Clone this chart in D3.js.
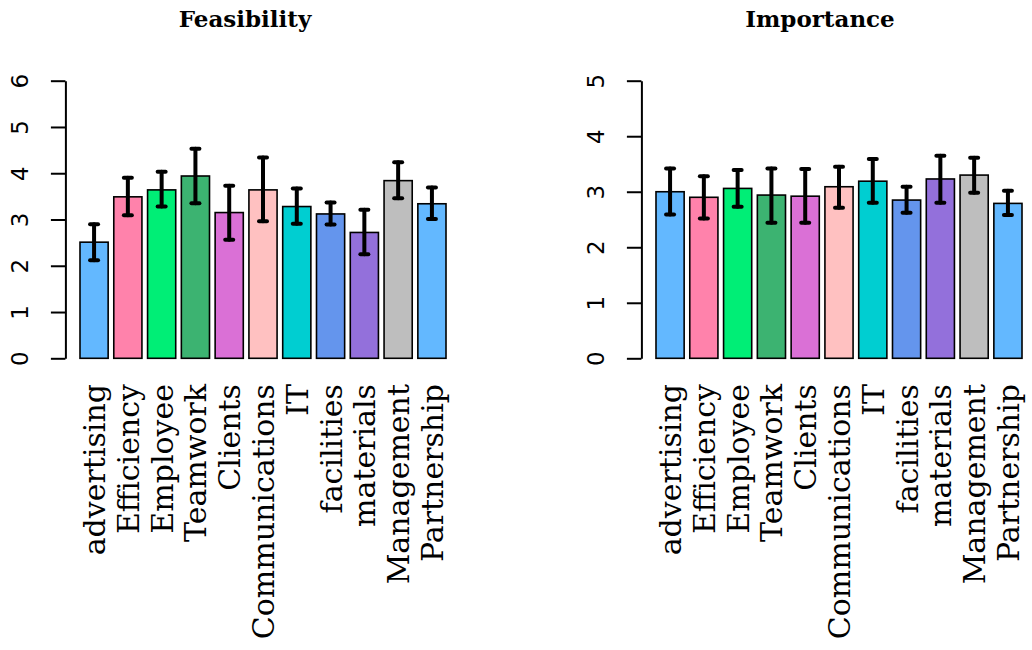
<!DOCTYPE html>
<html>
<head>
<meta charset="utf-8">
<script src="https://cdn.jsdelivr.net/npm/d3@7"></script>
<style>
  html, body { margin: 0; padding: 0; background: #fff; }
  svg { display: block; }
</style>
</head>
<body>
<svg id="chart" width="1032" height="650"></svg>
<script>
const categories = ["advertising", "Efficiency", "Employee", "Teamwork", "Clients",
  "Communications", "IT", "facilities", "materials", "Management", "Partnership"];
const colors = ["#63B8FF", "#FF82AB", "#00EE76", "#3CB371", "#DA70D6",
  "#FFC1C1", "#00CED1", "#6495ED", "#9370DB", "#BEBEBE", "#63B8FF"];

const feasibilityMean = [2.51, 3.49, 3.64, 3.94, 3.15, 3.64, 3.28, 3.12, 2.72, 3.84, 3.34];
const feasibilityLow  = [2.12, 3.09, 3.28, 3.35, 2.56, 2.96, 2.91, 2.89, 2.25, 3.46, 3.01];
const feasibilityHigh = [2.90, 3.90, 4.03, 4.53, 3.73, 4.34, 3.67, 3.37, 3.21, 4.24, 3.69];
const feasibilityTicks = [0, 1, 2, 3, 4, 5, 6];

const importanceMean = [3.00, 2.90, 3.06, 2.94, 2.92, 3.09, 3.19, 2.85, 3.23, 3.30, 2.79];
const importanceLow  = [2.59, 2.52, 2.73, 2.44, 2.44, 2.71, 2.80, 2.62, 2.80, 2.98, 2.58];
const importanceHigh = [3.42, 3.28, 3.39, 3.42, 3.41, 3.45, 3.59, 3.09, 3.65, 3.61, 3.02];
const importanceTicks = [0, 1, 2, 3, 4, 5];

const svg = d3.select("#chart");

function panel(opts) {
  const g = svg.append("g");
  const x = d3.scaleBand()
    .domain(categories)
    .range([opts.left, opts.left + 395.2])
    .paddingInner(1 / 6)
    .paddingOuter(0.432);
  const y = d3.scaleLinear().domain([0, opts.ymax]).range([358.3, 80.7]);

  const data = categories.map((c, i) => ({
    c, i, v: opts.mean[i], lo: opts.low[i], hi: opts.high[i], col: colors[i]
  }));

  // bars
  g.selectAll("rect.bar").data(data).enter().append("rect")
    .attr("class", "bar")
    .attr("x", d => x(d.c))
    .attr("width", x.bandwidth())
    .attr("y", d => y(d.v))
    .attr("height", d => y(0) - y(d.v))
    .attr("fill", d => d.col)
    .attr("stroke", "#000")
    .attr("stroke-width", 1.6);

  // error bars
  const cx = d => x(d.c) + x.bandwidth() / 2;
  const eg = g.append("g").attr("stroke", "#000").attr("stroke-width", 4)
    .attr("stroke-linecap", "round");
  eg.selectAll("line.v").data(data).enter().append("line")
    .attr("x1", cx).attr("x2", cx)
    .attr("y1", d => y(d.lo)).attr("y2", d => y(d.hi));
  eg.selectAll("line.t").data(data).enter().append("line")
    .attr("x1", d => cx(d) - 4).attr("x2", d => cx(d) + 4)
    .attr("y1", d => y(d.hi)).attr("y2", d => y(d.hi));
  eg.selectAll("line.b").data(data).enter().append("line")
    .attr("x1", d => cx(d) - 4).attr("x2", d => cx(d) + 4)
    .attr("y1", d => y(d.lo)).attr("y2", d => y(d.lo));

  // y axis
  const ax = g.append("g")
    .attr("transform", `translate(${opts.left},0)`)
    .call(d3.axisLeft(y).tickValues(opts.ticks).tickSize(14.5).tickSizeOuter(0)
      .tickFormat(d3.format("d")));
  ax.select(".domain").attr("stroke", "#000").attr("stroke-width", 2);
  ax.selectAll(".tick line").attr("stroke", "#000").attr("stroke-width", 2);
  ax.selectAll(".tick text")
    .attr("x", null).attr("dy", null)
    .attr("transform", "translate(-37.5,0) rotate(-90)")
    .attr("text-anchor", "middle")
    .attr("fill", "#000")
    .style("font-family", "'DejaVu Sans', sans-serif")
    .style("font-size", "23px");

  // category labels
  g.selectAll("text.cat").data(data).enter().append("text")
    .attr("class", "cat")
    .attr("transform", d => `translate(${cx(d) + 11},384) rotate(-90)`)
    .attr("text-anchor", "end")
    .style("font-family", "'DejaVu Serif', serif")
    .style("font-size", "30px")
    .attr("fill", "#000")
    .text(d => d.c);

  // title
  g.append("text")
    .attr("x", opts.titleX).attr("y", 27)
    .attr("text-anchor", "middle")
    .style("font-family", "'DejaVu Serif', serif")
    .style("font-weight", "bold")
    .style("font-size", "23px")
    .attr("fill", "#000")
    .text(opts.title);
}

panel({ left: 65.4, ymax: 6, ticks: feasibilityTicks, mean: feasibilityMean,
  low: feasibilityLow, high: feasibilityHigh, title: "Feasibility", titleX: 245 });
panel({ left: 641.4, ymax: 5, ticks: importanceTicks, mean: importanceMean,
  low: importanceLow, high: importanceHigh, title: "Importance", titleX: 820 });
</script>
</body>
</html>
